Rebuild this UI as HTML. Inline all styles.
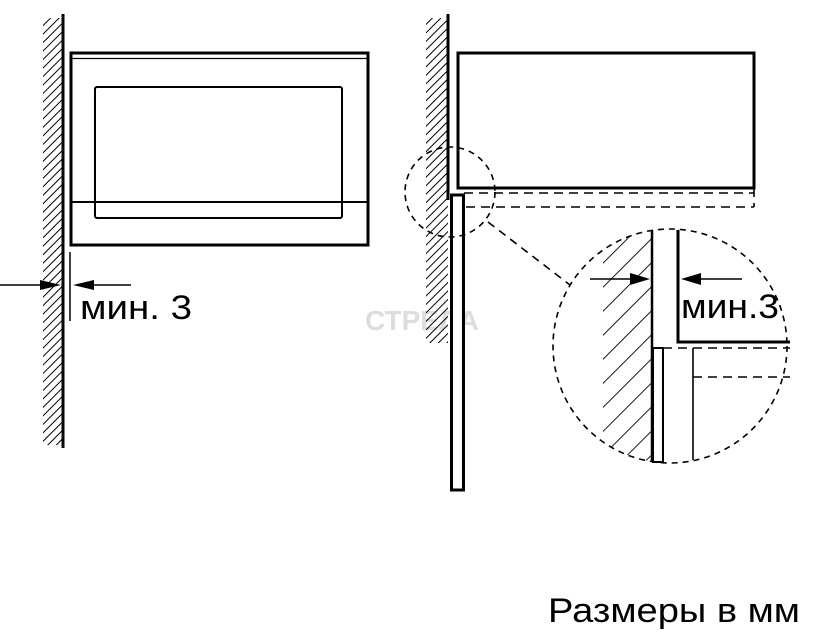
<!DOCTYPE html>
<html><head><meta charset="utf-8"><style>html,body{margin:0;padding:0;background:#fff}svg{display:block}</style></head>
<body>
<svg width="830" height="634" viewBox="0 0 830 634" xmlns="http://www.w3.org/2000/svg" font-family="Liberation Sans, DejaVu Sans, sans-serif">
<defs>
<pattern id="h" patternUnits="userSpaceOnUse" width="6" height="6" patternTransform="rotate(45)">
<line x1="0" y1="0" x2="0" y2="6" stroke="#000" stroke-width="2"/></pattern>
<pattern id="h2" patternUnits="userSpaceOnUse" width="17" height="17" patternTransform="rotate(45)">
<line x1="0" y1="0" x2="0" y2="17" stroke="#000" stroke-width="1.8"/></pattern>
<clipPath id="c"><circle cx="670" cy="346" r="117"/></clipPath>
</defs>
<!-- left wall -->
<rect x="43" y="18" width="20" height="427" fill="url(#h)"/>
<line x1="63" y1="14" x2="63" y2="448" stroke="#000" stroke-width="3"/>
<!-- left box -->
<rect x="71" y="53" width="297" height="192" fill="none" stroke="#000" stroke-width="3"/>
<line x1="72" y1="58.5" x2="367" y2="58.5" stroke="#000" stroke-width="1.3"/>
<rect x="95" y="87" width="247" height="131" rx="2" fill="none" stroke="#000" stroke-width="2"/>
<line x1="72" y1="202" x2="367" y2="202" stroke="#000" stroke-width="2"/>
<line x1="70" y1="252" x2="70" y2="321" stroke="#000" stroke-width="1.5"/>
<line x1="0" y1="285" x2="50" y2="285" stroke="#000" stroke-width="1.5"/>
<polygon points="61,285 40,280 40,290" fill="#000"/>
<line x1="85" y1="285" x2="131" y2="285" stroke="#000" stroke-width="1.5"/>
<polygon points="73,285 94,280 94,290" fill="#000"/>
<text x="80" y="319" font-size="34" textLength="112" lengthAdjust="spacingAndGlyphs">мин. 3</text>
<!-- watermark -->
<text x="365" y="330" font-size="28" font-weight="bold" fill="#ddd">СТРЕЛА</text>
<!-- right wall -->
<rect x="426" y="18" width="22" height="325" fill="url(#h)"/>
<line x1="448" y1="14" x2="448" y2="200" stroke="#000" stroke-width="3"/>
<rect x="458" y="53" width="296" height="135" fill="none" stroke="#000" stroke-width="3"/>
<rect x="451.5" y="195" width="12" height="295" fill="#fff" stroke="#000" stroke-width="3"/>
<g stroke="#000" stroke-width="1.6" fill="none" stroke-dasharray="9,6">
<line x1="464" y1="193" x2="754" y2="193"/>
<line x1="466" y1="207" x2="754" y2="207"/>
<line x1="754" y1="188" x2="754" y2="207"/>
<circle cx="450" cy="192" r="45" stroke-dasharray="6,5"/>
<line x1="488" y1="222" x2="570" y2="285" stroke-dasharray="8,6"/>
</g>
<!-- zoom circle -->
<g clip-path="url(#c)">
<rect x="603" y="228" width="49" height="240" fill="url(#h2)"/>
</g>
<circle cx="670" cy="346" r="117" fill="none" stroke="#000" stroke-width="1.6" stroke-dasharray="6,5"/>
<line x1="652" y1="230" x2="652" y2="462" stroke="#000" stroke-width="2.5"/>
<polyline points="678,230 678,342 790,342" fill="none" stroke="#000" stroke-width="3"/>
<rect x="653" y="348" width="10" height="114" fill="#fff" stroke="#000" stroke-width="2"/>
<line x1="693" y1="348" x2="693" y2="460" stroke="#000" stroke-width="1.6"/>
<g stroke="#000" stroke-width="1.6" stroke-dasharray="9,6">
<line x1="663" y1="348" x2="790" y2="348"/>
<line x1="693" y1="377" x2="790" y2="377"/>
</g>
<line x1="590" y1="279" x2="635" y2="279" stroke="#000" stroke-width="1.5"/>
<polygon points="650,279 630,273 630,285" fill="#000"/>
<line x1="695" y1="279" x2="742" y2="279" stroke="#000" stroke-width="1.5"/>
<polygon points="681,279 701,273 701,285" fill="#000"/>
<text x="681" y="318" font-size="34" textLength="98" lengthAdjust="spacingAndGlyphs">мин.3</text>
<text x="548" y="622" font-size="34" textLength="252" lengthAdjust="spacingAndGlyphs">Размеры в мм</text>
</svg>
</body></html>
